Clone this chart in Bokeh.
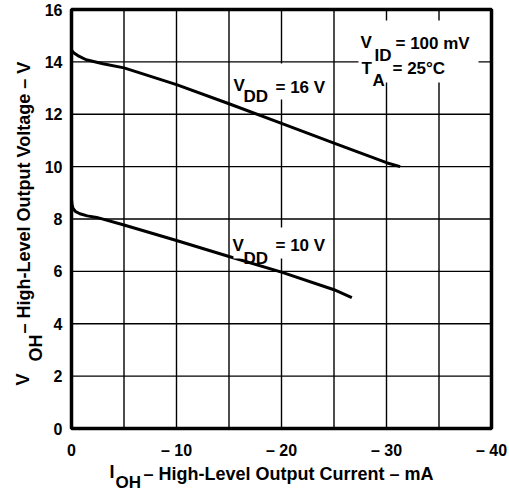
import numpy as np
from bokeh.plotting import figure
from bokeh.models import Range1d, FixedTicker, Label, BoxAnnotation, LinearAxis
from bokeh.embed import file_html
from bokeh.resources import INLINE

# ---- data ----
i_16 = [0, -0.2, -0.6, -1.4, -3.0, -5, -6.2, -10, -15, -20, -25, -30, -31.3]
v_16 = [14.45, 14.35, 14.24, 14.08, 13.93, 13.77, 13.62, 13.13, 12.4, 11.65, 10.9, 10.15, 10.0]

i_10 = [0, -0.05, -0.15, -0.4, -0.8, -1.5, -2.4, -5, -10, -15, -20, -25, -26.7]
v_10 = [8.75, 8.55, 8.4, 8.28, 8.2, 8.12, 8.06, 7.77, 7.18, 6.57, 5.97, 5.30, 5.0]

x_ticks = [0, -10, -20, -30, -40]
x_tick_labels = ["0", "\u2013 10", "\u2013 20", "\u2013 30", "\u2013 40"]
x_grid = [0, -5, -10, -15, -20, -25, -30, -35, -40]
y_ticks = [0, 2, 4, 6, 8, 10, 12, 14, 16]

x_lim = (0, -40)
y_lim = (0, 16)

FONT = "Liberation Sans"

# ---- layout: page size and where the plot box sits on it (pixels) ----
W, H = 509, 490
BOX_L, BOX_R, BOX_T, BOX_B = 71, 491, 9, 428

kx = (BOX_R - BOX_L) / (x_lim[1] - x_lim[0])   # px per data unit (negative)
ky = (BOX_B - BOX_T) / (y_lim[1] - y_lim[0])

def dx(px):
    return x_lim[0] + (px - BOX_L) / kx

def dy(py):
    return y_lim[0] + (BOX_B - py) / ky

p = figure(width=W, height=H,
           x_range=Range1d(dx(0), dx(W)), y_range=Range1d(dy(H), dy(0)),
           x_axis_location=None, y_axis_location=None,
           output_backend="svg", toolbar_location=None,
           min_border=0, min_border_left=0, min_border_right=0,
           min_border_top=0, min_border_bottom=0)

p.background_fill_color = "white"
p.border_fill_color = "white"
p.outline_line_color = None
p.xgrid.visible = False
p.ygrid.visible = False

# axes, pinned to the plot box edges
xaxis = LinearAxis(fixed_location=y_lim[0], ticker=FixedTicker(ticks=x_ticks))
xaxis.major_label_overrides = {t: s for t, s in zip(x_ticks, x_tick_labels)}
xaxis.major_label_standoff = 13
yaxis = LinearAxis(fixed_location=x_lim[0], ticker=FixedTicker(ticks=y_ticks))
yaxis.major_label_standoff = 9
for ax in (xaxis, yaxis):
    ax.axis_line_color = None
    ax.major_tick_line_color = None
    ax.minor_tick_line_color = None
    ax.major_tick_out = 0
    ax.major_tick_in = 0
    ax.minor_tick_out = 0
    ax.minor_tick_in = 0
    ax.major_label_text_font = FONT
    ax.major_label_text_font_style = "bold"
    ax.major_label_text_font_size = "16px"
    ax.major_label_text_color = "black"
p.add_layout(xaxis, "below")
p.add_layout(yaxis, "left")

# grid lines inside the plot box
p.segment(x0=x_grid, y0=[y_lim[0]] * len(x_grid), x1=x_grid, y1=[y_lim[1]] * len(x_grid),
          line_color="black", line_width=1.4)
p.segment(x0=[x_lim[0]] * len(y_ticks), y0=y_ticks, x1=[x_lim[1]] * len(y_ticks), y1=y_ticks,
          line_color="black", line_width=1.4)

# curves
p.line(i_16, v_16, line_color="black", line_width=3)
p.line(i_10, v_10, line_color="black", line_width=3)

# white boxes behind the in-plot texts
for (l, r, t, b) in [(231, 331, 63, 99), (233, 330, 227, 258), (358, 478, 20, 82)]:
    p.add_layout(BoxAnnotation(left=dx(l), right=dx(r), top=dy(t), bottom=dy(b),
                               fill_color="white", fill_alpha=1.0, line_color=None))

# plot box outline
p.add_layout(BoxAnnotation(left=x_lim[0], right=x_lim[1], bottom=y_lim[0], top=y_lim[1],
                           fill_color=None, fill_alpha=0, line_color="black",
                           line_width=3.5, line_alpha=1.0))

def lab(text, px, py, size="17px", angle=0.0):
    p.add_layout(Label(x=dx(px), y=dy(py), text=text, text_font=FONT,
                       text_font_style="bold", text_font_size=size,
                       text_color="black", text_align="left",
                       text_baseline="alphabetic", angle=angle))

# in-plot annotations
lab("V", 233, 85); lab("DD", 243, 96); lab("= 16 V", 275, 87)
lab("V", 232, 245); lab("DD", 243, 258); lab("= 10 V", 275, 245)
lab("V", 360, 42); lab("ID", 374, 55); lab("= 100 mV", 395, 43)
lab("T", 361, 68); lab("A", 372, 80); lab("= 25\u00b0C", 392, 68)

# axis titles
lab("I", 109, 471, "18px"); lab("OH", 115, 482, "17px")
lab("\u2013 High-Level Output Current \u2013 mA", 143, 473, "18px")
lab("V", 22, 385, "18px", np.pi / 2); lab("OH", 35, 361, "18px", np.pi / 2)
lab("\u2013 High-Level Output Voltage \u2013 V", 23, 333, "18px", np.pi / 2)

open("out.html", "w").write(file_html(p, INLINE))
